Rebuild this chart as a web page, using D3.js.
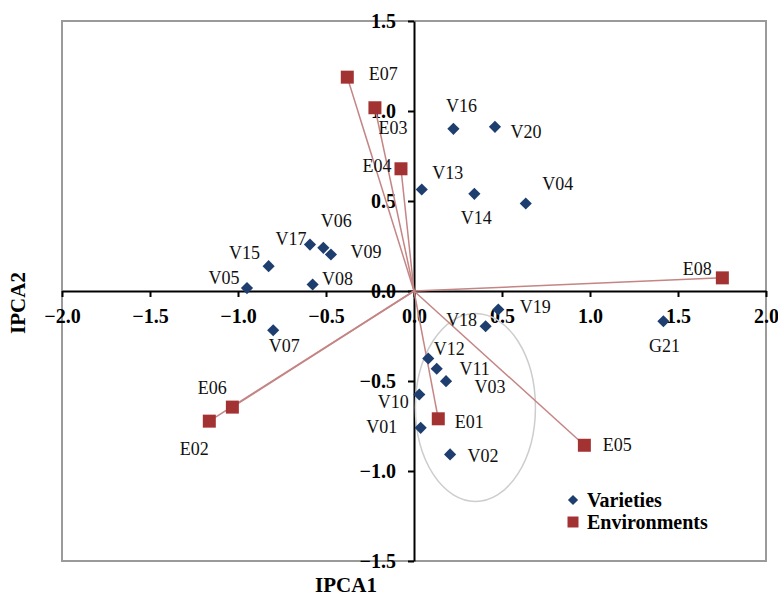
<!DOCTYPE html>
<html>
<head>
<meta charset="utf-8">
<script src="https://cdn.jsdelivr.net/npm/d3@7"></script>
<style>
    body { margin: 0; background: #fff; }
    svg { display: block; }
    text { font-family: "Liberation Serif", "Times New Roman", serif; }
</style>
</head>
<body>
<div id="chart"></div>
<script>
// biplot scores
const varietyNames = ["V01", "V02", "V03", "V04", "V05", "V06", "V07", "V08", "V09", "V10",
    "V11", "V12", "V13", "V14", "V15", "V16", "V17", "V18", "V19", "V20", "G21"];
const varietyIPCA1 = [0.038, 0.205, 0.182, 0.635, -0.949, -0.515, -0.80, -0.576, -0.472, 0.030,
    0.129, 0.081, 0.044, 0.343, -0.826, 0.224, -0.591, 0.407, 0.479, 0.46, 1.417];
const varietyIPCA2 = [-0.76, -0.908, -0.501, 0.486, 0.016, 0.24, -0.218, 0.036, 0.203, -0.575,
    -0.432, -0.375, 0.564, 0.54, 0.138, 0.901, 0.258, -0.196, -0.103, 0.912, -0.168];

const envNames = ["E01", "E02", "E03", "E04", "E05", "E06", "E07", "E08"];
const envIPCA1 = [0.138, -1.163, -0.222, -0.074, 0.968, -1.032, -0.379, 1.752];
const envIPCA2 = [-0.71, -0.723, 1.018, 0.679, -0.857, -0.645, 1.188, 0.073];

const xTicks = [-2.0, -1.5, -1.0, -0.5, 0.0, 0.5, 1.0, 1.5, 2.0];
const yTicks = [-1.5, -1.0, -0.5, 0.0, 0.5, 1.0, 1.5];

// grey ellipse around the lower cluster, in IPCA units
const clusterEllipse = { cx: 0.349, cy: -0.647, rx: 0.341, ry: 0.522 };

const legendItems = ["Varieties", "Environments"];

// where each label sits relative to its marker (px, label centre)
const labelNudge = {
    V01: [-39, -1], V02: [33, 2], V03: [44, 6], V04: [32, -20], V05: [-23, -10],
    V06: [13, -27], V07: [11, 16], V08: [25, -6], V09: [35, -2], V10: [-26, 7],
    V11: [38, 0], V12: [21, -10], V13: [26, -16], V14: [2, 24], V15: [-24, -13],
    V16: [8, -23], V17: [-19, -6], V18: [-24, -6], V19: [37, -3], V20: [31, 5],
    G21: [1, 25],
    E01: [31, 3], E02: [-15, 28], E03: [18, 20], E04: [-24, -3], E05: [33, 0],
    E06: [-20, -19], E07: [36, -3], E08: [-25, -9]
};

const W = 778, H = 598;
const margin = { top: 21, right: 12, bottom: 37, left: 62 };
const width = W - margin.left - margin.right;
const height = H - margin.top - margin.bottom;

const blue = "#1d3e6e", red = "#a33333", lineRed = "#c48585";

const svg = d3.select("#chart").append("svg")
    .attr("width", W)
    .attr("height", H);

const g = svg.append("g")
    .attr("transform", `translate(${margin.left}, ${margin.top})`);

const x = d3.scaleLinear().domain([-2, 2]).range([0, width]);
const y = d3.scaleLinear().domain([-1.5, 1.5]).range([height, 0]);

// plot frame
g.append("rect")
    .attr("width", width)
    .attr("height", height)
    .attr("fill", "none")
    .attr("stroke", "#9a9a9a")
    .attr("stroke-width", 2);

const fmt = d3.format(".1f");

const xAxis = g.append("g")
    .attr("transform", `translate(0, ${y(0)})`)
    .call(d3.axisBottom(x).tickValues(xTicks).tickFormat(fmt).tickSize(6).tickPadding(12).tickSizeOuter(0));

const yAxis = g.append("g")
    .attr("transform", `translate(${x(0)}, 0)`)
    .call(d3.axisLeft(y).tickValues(yTicks).tickFormat(fmt).tickSize(6).tickPadding(12).tickSizeOuter(0));

for (const ax of [xAxis, yAxis]) {
    ax.select(".domain").attr("stroke", "#000").attr("stroke-width", 2);
    ax.selectAll(".tick line").attr("stroke", "#000").attr("stroke-width", 2);
    ax.selectAll(".tick text")
        .attr("fill", "#000")
        .attr("font-family", "'Liberation Serif', serif")
        .attr("font-weight", "bold")
        .attr("font-size", 20);
}

// cluster ellipse
g.append("ellipse")
    .attr("cx", x(clusterEllipse.cx))
    .attr("cy", y(clusterEllipse.cy))
    .attr("rx", x(clusterEllipse.rx) - x(0))
    .attr("ry", y(0) - y(clusterEllipse.ry))
    .attr("fill", "none")
    .attr("stroke", "#cdcdcd")
    .attr("stroke-width", 1.5);

const envs = envNames.map((name, i) => ({ name, x: envIPCA1[i], y: envIPCA2[i] }));
const varieties = varietyNames.map((name, i) => ({ name, x: varietyIPCA1[i], y: varietyIPCA2[i] }));

// environment vectors from the origin
g.append("g").selectAll("line")
    .data(envs)
    .join("line")
    .attr("x1", x(0))
    .attr("y1", y(0))
    .attr("x2", d => x(d.x))
    .attr("y2", d => y(d.y))
    .attr("stroke", lineRed)
    .attr("stroke-width", 1.5);

const diamond = d3.symbol(d3.symbolSquare).size(74);
const square = d3.symbol(d3.symbolSquare).size(169);

g.append("g").selectAll("path")
    .data(varieties)
    .join("path")
    .attr("d", diamond)
    .attr("transform", d => `translate(${x(d.x)}, ${y(d.y)}) rotate(45)`)
    .attr("fill", blue);

g.append("g").selectAll("path")
    .data(envs)
    .join("path")
    .attr("d", square)
    .attr("transform", d => `translate(${x(d.x)}, ${y(d.y)})`)
    .attr("fill", red);

g.append("g").selectAll("text")
    .data(varieties.concat(envs))
    .join("text")
    .attr("x", d => x(d.x) + (labelNudge[d.name] || [0, 0])[0])
    .attr("y", d => y(d.y) + (labelNudge[d.name] || [0, 0])[1])
    .attr("text-anchor", "middle")
    .attr("dominant-baseline", "central")
    .attr("font-size", 18)
    .attr("fill", "#111")
    .text(d => d.name);

// axis titles
svg.append("text")
    .attr("x", 346)
    .attr("y", 592)
    .attr("text-anchor", "middle")
    .attr("font-size", 21)
    .attr("font-weight", "bold")
    .text("IPCA1");

svg.append("text")
    .attr("transform", "translate(25, 303) rotate(-90)")
    .attr("text-anchor", "middle")
    .attr("font-size", 21)
    .attr("font-weight", "bold")
    .text("IPCA2");

// legend
const legend = svg.append("g").attr("transform", "translate(573, 500)");
const legendRows = legend.selectAll("g")
    .data(legendItems)
    .join("g")
    .attr("transform", (d, i) => `translate(0, ${i * 22})`);

legendRows.append("path")
    .attr("d", (d, i) => i === 0 ? d3.symbol(d3.symbolSquare).size(52)() : d3.symbol(d3.symbolSquare).size(121)())
    .attr("transform", (d, i) => i === 0 ? "rotate(45)" : null)
    .attr("fill", (d, i) => i === 0 ? blue : red);

legendRows.append("text")
    .attr("x", 14)
    .attr("dominant-baseline", "central")
    .attr("font-size", 20)
    .attr("font-weight", "bold")
    .text(d => d);
</script>
</body>
</html>
